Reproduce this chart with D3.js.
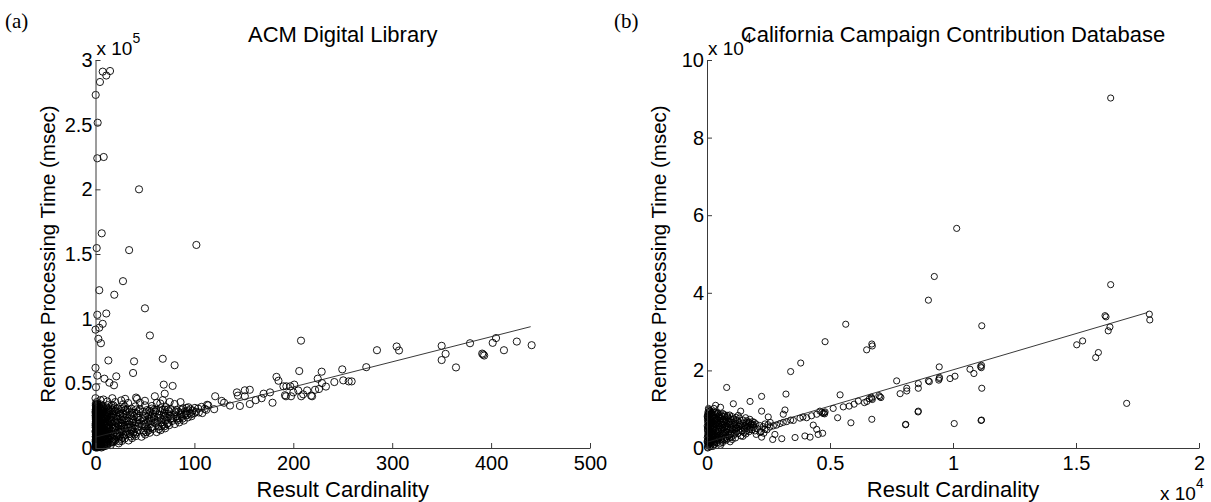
<!DOCTYPE html>
<html><head><meta charset="utf-8">
<script src="https://cdn.jsdelivr.net/npm/d3@7"></script>
<style>
body{margin:0;background:#fff}
svg{display:block}
</style>
</head><body>
<svg id="c" width="1211" height="502"></svg>
<script>
// ---------- Panel (a): ACM Digital Library ----------
// x: result cardinality, y: remote processing time in thousands of msec
const acmXTicks = [0, 100, 200, 300, 400, 500];
const acmYTicks = [0, 50, 100, 150, 200, 250, 300];
const acmYTickLabels = ["0", "0.5", "1", "1.5", "2", "2.5", "3"];
const acmFit = [[0, 8.4], [440, 93.8]];
const acmOutliers = [
 [7.3,291],[14.7,291.5],[10.9,288],[4.5,283],[0.2,273],[2.2,251.5],[1.8,224],[8.3,225],[44,200],[6.3,166],
 [1.2,154.6],[34,153],[102,157],[27.8,129],[3.8,122],[19,118.5],[50,108],[1.8,103],[10.9,104],[7.3,96],
 [0,91.5],[3.8,93],[55,87],[2.9,84.4],[5.5,81],[13,67.7],[39,67],[68,69],[80,64],[38,58],[0,62],[1.8,56],
 [9,53.6],[21,55.4],[14,50.5],[18.7,48.5],[0.5,47],[69,49],[78,48],[70,42],[60,40],[0,38.5],[8,37.5],
 [41,39],[42,38],[75,35.6],[65.5,34.4],[50,33],[57,32.5],[28,33.8],[18,33],
 [5,37],[12,36],[20,35.5],[26,36.8],[33,34.8],[45,35],[50,36.5],[62,35],[68,37],[80,34],[86,35.5],[30,38],[17,38.5]
];
const acmBand = [
 [121,40],[92,31],[127.6,36.4],[114,33],[143,43],[151,44.6],[156,45],[151,40],[144,40.5],[170,42],[176.5,43],
 [183,55],[185,52],[193,47.7],[191.6,40.8],[179,35],[156,34],[146,32.5],[136,32.8],[162,37],[168,38.5],
 [120,30],[112,29.5],[108,27],[130,35],[200,43],
 [207.8,83],[206,59.5],[228.7,59],[249.5,60.8],[273.8,62.5],[284.6,75.6],[304.5,78.5],[306.9,75.4],[350,79],
 [354,72.8],[350,68],[364.5,62.3],[378.7,81],[391,73],[392,72.3],[393,71.5],[401.6,81.3],[405,85],[413,75.6],
 [426,82.3],[441,79.5],
 [224.7,53.6],[229,50.2],[226,45.6],[233,47.5],[241.5,51],[250.5,52.3],[256,51.5],[259,51.5],[201,49],[190,47.7],
 [197,47.7],[192.6,40],[197.7,40],[208,40],[210,41.5],[214,44.5],[218,40.5],[219,40],[205,44.5],[222,45]
];
const acmCluster = [
 [0,0.5],[0.3,2.1],[0.8,4.0],[0.2,6.3],[1.1,8.2],[0.5,10.4],[0.1,12.7],[1.4,14.1],[0.6,16.8],[0.2,19.0],[1.0,21.3],[0.4,23.5],[0.9,25.9],[0.1,28.2],[0.7,30.6],[0.3,33.1],[1.2,35.5],
 [2.0,0.9],[2.6,3.2],[1.8,5.5],[2.9,7.4],[2.2,9.6],[3.1,11.8],[1.9,13.5],[2.7,15.9],[2.3,18.2],[3.0,20.4],[2.1,22.7],[2.8,24.8],[1.7,27.1],[2.5,29.4],[3.2,31.7],[2.0,34.0],
 [4.1,0.8],[5.3,2.6],[4.6,4.9],[6.2,6.7],[5.0,8.8],[6.8,10.9],[4.4,12.6],[5.7,14.8],[7.1,16.5],[4.9,18.7],[6.5,20.9],[5.2,23.1],[7.4,25.0],[4.7,27.3],[6.0,29.5],[7.8,31.2],[5.5,33.6],[7.6,3.9],[8.0,7.9],[7.9,12.1],[8.2,19.3],[8.5,27.8],
 [9.2,1.6],[10.5,3.4],[11.8,5.1],[9.8,7.0],[12.6,8.6],[10.9,10.5],[13.4,12.2],[9.5,14.0],[11.6,15.8],[13.8,17.7],[10.2,19.6],[12.3,21.5],[14.1,23.3],[9.9,25.4],[11.3,27.6],[13.2,29.3],[10.7,31.5],[12.9,33.2],
 [15.4,2.3],[17.8,4.4],[20.1,6.1],[16.3,8.0],[19.2,9.9],[21.6,11.4],[15.9,13.1],[18.4,14.9],[20.9,16.6],[16.8,18.5],[19.7,20.3],[22.0,22.1],[15.6,24.0],[18.0,25.8],[21.2,27.5],[17.1,29.6],[19.5,31.4],[16.2,33.0],
 [23.5,3.6],[26.8,5.5],[29.4,7.3],[24.6,9.1],[27.9,10.8],[31.2,12.6],[25.3,14.3],[28.6,16.1],[31.8,17.8],[23.9,19.6],[27.1,21.4],[30.3,23.0],[24.8,24.9],[28.2,26.6],[31.5,28.3],[26.0,30.2],[29.7,32.0],
 [33.4,5.8],[36.9,7.6],[40.7,9.2],[34.8,10.9],[38.5,12.5],[42.9,14.0],[35.6,15.8],[39.8,17.3],[44.1,18.9],[33.9,20.6],[37.6,22.2],[41.5,23.8],[35.1,25.5],[39.2,27.1],[43.6,28.6],[36.4,30.4],[40.3,32.2],
 [46.5,8.7],[50.2,10.4],[54.8,11.8],[48.3,13.4],[52.6,14.9],[57.4,16.3],[47.1,17.9],[51.5,19.4],[56.2,20.8],[59.3,22.1],[49.0,23.6],[53.7,25.0],[58.1,26.4],[47.8,27.9],[52.0,29.3],[56.9,30.5],
 [61.8,12.3],[65.9,13.8],[70.4,15.2],[63.5,16.6],[68.1,18.0],[73.2,19.3],[62.7,20.7],[67.2,22.0],[72.0,23.4],[76.5,24.7],[64.4,25.9],[69.3,27.2],[74.1,28.5],[61.2,29.4],[66.0,30.8],[71.3,31.6],[77.4,20.9],
 [80.2,18.5],[84.7,19.8],[89.3,21.2],[82.5,22.6],[87.0,24.0],[92.1,25.3],[79.6,25.9],[85.8,27.1],[90.6,28.3],[95.2,27.0],[81.9,29.5],[88.4,30.6],[94.0,31.5],[98.3,29.0],[97.1,24.6],[101.5,28.0],[103.8,30.5],[107.2,31.8],[110.5,30.3],[112.9,33.4],
 [0.5,1.2],[1.5,0.3],[3,1.5],[6,0.4],[8,1.1],[12,2.2],[2,2.0],
 [0.5,3.2],[0.2,5.1],[0.7,7.3],[0.4,9.2],[0.9,11.5],[0.3,13.3],[0.8,15.4],[0.1,17.6],[0.6,20.1],[0.3,22.4],[0.7,24.6],[0.2,27.0],[0.5,29.3],[0.9,31.8],[0.4,34.2],
 [1.6,1.7],[1.3,3.9],[1.8,6.0],[1.5,8.7],[1.2,10.9],[1.7,12.8],[1.4,15.0],[1.9,17.2],[1.1,19.5],[1.6,21.8],[1.3,24.2],[1.8,26.3],[1.5,28.6],[1.2,30.9],[1.7,33.3],
 [3.6,2.2],[4.3,4.1],[3.5,6.6],[4.8,8.1],[3.8,10.0],[5.1,11.7],[3.4,13.7],[4.5,15.6],[3.9,17.4],[5.6,19.8],[3.7,21.9],[4.2,24.3],[5.8,26.4],[3.3,28.7],[4.6,30.8],[3.6,32.9],
 [6.5,1.3],[7.2,5.7],[6.1,9.7],[7.5,13.6],[6.4,17.6],[7.0,21.7],[6.7,24.2],[7.3,28.4],[6.2,32.3],
 [9.7,4.2],[11.1,6.3],[10.0,9.4],[12.1,11.2],[9.4,12.9],[11.0,17.0],[12.7,18.9],[9.6,20.8],[11.9,24.4],[10.4,26.8],[12.5,30.4],[13.6,27.0],[14.4,20.1],[13.9,14.6],[14.6,9.8],
 [16.7,5.2],[19.0,7.3],[17.4,11.1],[20.4,13.8],[18.8,17.6],[16.1,21.6],[21.1,19.4],[17.7,23.6],[20.6,25.0],[18.6,28.4],[22.4,30.6],[15.2,30.2],
 [25.9,7.1],[28.8,9.6],[24.2,12.3],[30.1,15.2],[26.6,17.3],[29.2,19.9],[25.5,22.3],[32.0,21.1],[27.6,24.0],[30.9,26.0],[23.6,27.8],[32.4,29.9],
 [35.7,8.9],[38.1,11.3],[41.8,12.1],[37.2,14.6],[43.3,16.5],[34.5,18.2],[40.6,20.1],[44.8,21.9],[38.8,24.6],[42.2,26.5],[34.2,28.0],[44.9,30.1],
 [48.9,11.9],[53.3,13.4],[57.9,14.7],[50.6,16.6],[55.4,18.4],[60.1,19.6],[48.5,21.1],[54.2,22.6],[59.0,24.0],[51.0,26.8],[55.6,27.7],[60.4,28.2],
 [64.1,14.6],[69.5,16.7],[74.5,17.6],[66.5,19.8],[71.0,21.2],[75.8,22.6],[63.0,23.5],[68.6,25.1],[73.5,26.3],[65.3,28.5],[70.2,29.7],[76.2,30.1],
 [83.1,21.4],[88.0,22.7],[93.3,23.6],[86.2,25.9],[91.4,26.8],[83.9,28.1],[96.5,26.0],[99.8,26.9],[104.5,27.5],[78.6,22.9],[80.8,27.8],[86.9,29.4],
 [0.15,1.0],[0.6,2.6],[0.35,4.6],[0.85,6.8],[0.25,8.7],[0.75,10.0],[0.45,11.9],[0.95,13.7],[0.2,15.9],[0.65,18.0],[0.4,20.7],[0.85,22.9],[0.1,25.1],[0.55,27.6],[0.3,29.8],[0.8,32.4],
 [2.4,1.2],[3.3,3.6],[2.2,5.0],[3.6,8.4],[2.6,11.0],[3.4,15.2],[2.4,16.8],[3.5,19.0],[2.7,21.3],[3.3,23.3],[2.3,25.8],[3.5,27.1],[2.6,31.0],
 [4.4,1.7],[5.6,4.5],[4.2,7.2],[5.9,9.3],[4.7,10.6],[6.3,12.2],[5.3,13.2],[6.6,15.5],[4.3,16.4],[5.4,17.9],[6.9,19.2],[4.5,20.6],[5.9,22.2],[6.3,25.7],[5.1,28.6],[6.8,30.1],
 [8.6,2.7],[9.0,5.5],[8.8,9.1],[8.4,14.9],[9.1,17.4],[8.7,22.6],[9.3,24.3],[8.9,30.0],
 [10.8,1.9],[12.4,3.9],[13.7,6.7],[11.4,8.0],[13.0,10.0],[10.6,12.0],[12.2,13.5],[13.1,16.1],[11.9,20.2],[13.4,22.2],[10.6,23.0],[12.0,26.1],[14.3,28.5],
 [15.8,4.2],[17.3,6.4],[18.9,5.4],[21.0,8.8],[22.5,10.3],[17.2,15.7],[19.9,15.5],[22.7,17.9],[15.3,19.8],[21.8,24.2],[16.9,26.6],[19.8,29.0],
 [24.1,5.2],[27.5,7.9],[30.5,10.4],[26.5,12.8],[29.9,13.5],[23.2,16.7],[32.8,16.1],[26.3,19.2],[29.0,22.0],[25.2,26.5],[30.1,29.4],[27.9,30.7],
 [36.3,13.4],[40.0,14.9],[42.0,19.9],[36.9,19.4],[38.1,21.0],[43.0,23.6],[36.8,27.2],[41.2,29.8],[39.6,10.5],
 [51.4,12.3],[55.9,15.6],[49.8,18.3],[53.0,21.0],[57.1,23.1],[50.3,25.0],[58.8,29.4],[54.5,28.9],
 [66.9,16.9],[72.4,18.6],[65.8,23.2],[70.5,24.6],[75.0,25.1],[67.9,29.4],[73.2,29.9],
 [82.0,24.6],[89.6,25.6],[85.0,23.1],[92.8,28.6],[95.8,29.9],[100.5,31.0]
];

// ---------- Panel (b): California Campaign Contribution Database ----------
// x: result cardinality in units of 10^4, y: remote processing time in units of 10^4 msec
const campXTicks = [0, 0.5, 1, 1.5, 2];
const campYTicks = [0, 2, 4, 6, 8, 10];
const campFit = [[0, 0.147], [1.79, 3.49]];
const campOutliers = [
 [1.641,9.02],[1.015,5.66],[0.924,4.42],[0.9,3.81],[1.641,4.21],[0.564,3.19],[1.117,3.15],[0.48,2.74],[0.67,2.68],[0.672,2.63],
 [0.649,2.53],[0.381,2.19],[0.34,1.97],[0.08,1.56],[0.321,1.39],[0.222,1.33],[0.175,1.2],[0.107,1.14],[0.028,1.02],[0.137,0.95],
 [0.222,0.95],[0.317,0.98],[0.31,0.87],[0.249,0.8],
 [1.503,2.66],[1.527,2.76],[1.618,3.41],[1.622,3.38],[1.638,3.12],[1.631,3.02],[1.591,2.46],[1.58,2.33],[1.706,1.15],[1.798,3.45],[1.8,3.3],
 [0.541,1.37],[0.531,0.78],[0.585,0.65],[0.67,0.74],[0.808,0.61],[0.807,0.6],[0.859,0.95],[0.858,0.93],[1.005,0.63],[1.114,0.71],[1.116,0.72],[1.117,1.54],
 [0.006,1.02],[0.012,0.95],[0.035,1.1],[0.055,1.05]
];
const campBand = [
 [1.115,2.07],[1.116,2.13],[1.112,2.1],[1.069,2.03],[1.085,1.92],[1.008,1.85],[0.988,1.79],[0.944,2.09],[0.944,1.79],[0.942,1.75],[0.945,1.82],
 [0.904,1.71],[0.9,1.73],[0.859,1.66],[0.859,1.54],[0.812,1.54],[0.812,1.47],[0.785,1.4],[0.771,1.73],[0.703,1.32],[0.707,1.3],[0.699,1.35],
 [0.67,1.28],[0.672,1.25],[0.668,1.31],[0.66,1.27],[0.65,1.2],[0.64,1.17],[0.615,1.21],[0.598,1.13],[0.578,1.08],[0.554,1.06],[0.513,1.02],
 [0.48,0.93],[0.476,0.91],[0.472,0.89],[0.459,0.95],[0.446,0.87],[0.425,0.83],[0.405,0.78],[0.378,0.77],[0.351,0.71],[0.324,0.68],[0.297,0.63],
 [0.283,0.59],[0.27,0.57],[0.256,0.54],[0.236,0.48],[0.31,0.66],[0.34,0.72],[0.39,0.8],[0.467,0.92],[0.478,0.88],
 [0.432,0.59],[0.446,0.48],[0.47,0.38],[0.452,0.35],[0.419,0.28],[0.398,0.31],[0.358,0.27],[0.304,0.24],[0.267,0.22],[0.276,0.35],[0.222,0.28],[0.2,0.35],[0.215,0.4]
];
const campCluster = [
 [0.002,0.02],[0.006,0.08],[0.001,0.15],[0.009,0.22],[0.004,0.29],[0.011,0.36],[0.003,0.43],[0.008,0.5],[0.001,0.57],[0.012,0.64],[0.005,0.71],[0.002,0.79],[0.01,0.86],[0.004,0.93],[0.007,0.99],[0.003,0.06],[0.014,0.12],[0.016,0.26],[0.018,0.4],[0.015,0.55],[0.02,0.7],[0.017,0.83],
 [0.024,0.04],[0.031,0.1],[0.027,0.17],[0.038,0.24],[0.029,0.31],[0.042,0.38],[0.034,0.45],[0.047,0.51],[0.025,0.58],[0.039,0.65],[0.045,0.72],[0.032,0.79],[0.05,0.85],[0.036,0.92],[0.028,0.47],[0.043,0.2],[0.049,0.31],[0.022,0.35],
 [0.055,0.07],[0.063,0.14],[0.071,0.21],[0.058,0.28],[0.082,0.24],[0.066,0.35],[0.077,0.41],[0.089,0.33],[0.06,0.48],[0.074,0.55],[0.085,0.5],[0.052,0.62],[0.068,0.68],[0.081,0.63],[0.057,0.75],[0.072,0.82],[0.088,0.76],[0.064,0.89],
 [0.094,0.16],[0.103,0.22],[0.116,0.26],[0.098,0.39],[0.112,0.45],[0.125,0.37],[0.107,0.56],[0.121,0.6],[0.134,0.48],[0.095,0.68],[0.118,0.73],[0.131,0.66],[0.102,0.81],[0.127,0.84],[0.138,0.31],[0.14,0.56],
 [0.146,0.3],[0.158,0.36],[0.171,0.42],[0.152,0.49],[0.166,0.55],[0.183,0.47],[0.149,0.63],[0.162,0.7],[0.178,0.6],[0.19,0.53],[0.157,0.78],[0.174,0.74],[0.195,0.44],[0.199,0.62],[0.185,0.68],
 [0.205,0.5],[0.214,0.58],[0.228,0.55],[0.236,0.62],[0.248,0.6],[0.219,0.42],[0.231,0.38],[0.244,0.47],[0.257,0.66],
 [0.004,0.11],[0.001,0.18],[0.007,0.25],[0.003,0.33],[0.009,0.4],[0.002,0.47],[0.006,0.54],[0.011,0.61],[0.003,0.68],[0.008,0.75],[0.001,0.82],[0.006,0.89],[0.012,0.46],[0.013,0.03],[0.016,0.16],[0.019,0.32],[0.013,0.5],[0.018,0.62],[0.014,0.77],[0.019,0.9],
 [0.026,0.13],[0.034,0.21],[0.041,0.28],[0.023,0.42],[0.037,0.55],[0.044,0.62],[0.03,0.69],[0.048,0.78],[0.026,0.84],[0.041,0.88],[0.023,0.27],[0.046,0.43],
 [0.061,0.18],[0.075,0.28],[0.086,0.4],[0.059,0.38],[0.07,0.46],[0.079,0.58],[0.064,0.6],[0.087,0.69],[0.053,0.7],[0.077,0.72],[0.062,0.81],[0.083,0.84],
 [0.099,0.27],[0.109,0.33],[0.121,0.42],[0.104,0.48],[0.115,0.53],[0.129,0.56],[0.097,0.59],[0.11,0.65],[0.124,0.7],[0.136,0.6],[0.107,0.75],[0.132,0.77],
 [0.151,0.39],[0.163,0.45],[0.177,0.52],[0.155,0.57],[0.169,0.63],[0.186,0.58],[0.161,0.66],[0.192,0.66],[0.147,0.72],
 [0.003,0.0],[0.008,0.14],[0.005,0.2],[0.001,0.27],[0.007,0.31],[0.004,0.38],[0.01,0.45],[0.002,0.52],[0.007,0.58],[0.004,0.65],[0.009,0.69],[0.002,0.74],[0.006,0.81],[0.003,0.87],[0.009,0.93],[0.012,0.97],
 [0.015,0.07],[0.018,0.2],[0.014,0.29],[0.02,0.36],[0.016,0.43],[0.021,0.51],[0.017,0.58],[0.022,0.66],[0.015,0.73],[0.021,0.8],[0.016,0.87],[0.022,0.93],
 [0.029,0.08],[0.033,0.15],[0.026,0.22],[0.035,0.29],[0.031,0.36],[0.027,0.53],[0.036,0.6],[0.029,0.63],[0.034,0.73],[0.028,0.76],[0.033,0.86],[0.031,0.93],
 [0.042,0.14],[0.047,0.24],[0.04,0.33],[0.044,0.47],[0.048,0.56],[0.041,0.68],[0.046,0.81],[0.04,0.74],[0.044,0.9],
 [0.054,0.12],[0.058,0.23],[0.053,0.33],[0.057,0.44],[0.055,0.54],[0.059,0.66],[0.054,0.8],[0.058,0.86],
 [0.067,0.25],[0.069,0.39],[0.065,0.52],[0.07,0.64],[0.066,0.74],[0.071,0.86],
 [0.079,0.2],[0.084,0.3],[0.08,0.47],[0.083,0.55],[0.078,0.67],[0.085,0.8],
 [0.092,0.27],[0.096,0.36],[0.093,0.47],[0.097,0.52],[0.091,0.62],[0.095,0.75],[0.092,0.85],
 [0.114,0.38],[0.118,0.5],[0.113,0.62],[0.122,0.52],[0.128,0.45],[0.119,0.79],[0.143,0.43],[0.148,0.52],[0.158,0.6],[0.171,0.67],[0.181,0.63],[0.16,0.52],[0.175,0.48],[0.189,0.6]
];

const svg = d3.select("#c");
const AXIS = "#3a3a3a";
const SANS = '"Liberation Sans",Arial,Helvetica,sans-serif';
const SERIF = '"Liberation Serif","DejaVu Serif",serif';

function panel(o) {
  const x = d3.scaleLinear().domain(o.xDomain).range([o.left, o.right]);
  const y = d3.scaleLinear().domain(o.yDomain).range([o.bottom, o.top]);
  const g = svg.append("g").style("font-family", SANS);

  // points
  g.append("g").selectAll("circle").data(o.points).join("circle")
    .attr("cx", d => x(d[0])).attr("cy", d => y(d[1])).attr("r", o.r)
    .attr("fill", "none").attr("stroke", "#000").attr("stroke-width", 0.9);

  // fit line
  g.append("path").datum(o.fit)
    .attr("d", d3.line().x(d => x(d[0])).y(d => y(d[1])))
    .attr("fill", "none").attr("stroke", "#222").attr("stroke-width", 0.9);

  // axes (ticks point inward, MATLAB style)
  const xa = g.append("g").attr("transform", `translate(0,${o.bottom})`)
    .call(d3.axisBottom(x).tickValues(o.xTicks).tickFormat(o.xFmt).tickSizeInner(-5).tickSizeOuter(0).tickPadding(8));
  const ya = g.append("g").attr("transform", `translate(${o.left},0)`)
    .call(d3.axisLeft(y).tickValues(o.yTicks).tickFormat(o.yFmt).tickSizeInner(-5).tickSizeOuter(0).tickPadding(3));
  [xa, ya].forEach(a => {
    a.select(".domain").attr("stroke", AXIS).attr("stroke-width", 1);
    a.selectAll(".tick line").attr("stroke", AXIS);
    a.selectAll(".tick text").attr("font-size", 20).style("font-family", SANS).attr("fill", "#000");
  });

  // title
  g.append("text").attr("x", (o.left + o.right) / 2).attr("y", 42).attr("text-anchor", "middle")
    .attr("font-size", 22).text(o.title);
  // x label
  g.append("text").attr("x", (o.left + o.right) / 2).attr("y", 497).attr("text-anchor", "middle")
    .attr("font-size", 22).text("Result Cardinality");
  // y label
  g.append("text").attr("transform", `translate(${o.left - 41},${(o.top + o.bottom) / 2}) rotate(-90)`)
    .attr("text-anchor", "middle").attr("font-size", 20.5).text("Remote Processing Time (msec)");
  // y exponent
  const ye = g.append("text").attr("x", o.left + 1).attr("y", 55).attr("font-size", 19);
  ye.append("tspan").text("x 10");
  ye.append("tspan").attr("font-size", 14).attr("dy", -12).text(o.yExp);
  // panel letter
  g.append("text").attr("x", o.letterX).attr("y", 28).attr("font-size", 21)
    .style("font-family", SERIF).text(o.letter);
  return {x, y, g};
}

panel({
  left: 95.5, right: 590, top: 60, bottom: 448,
  xDomain: [0, 500], yDomain: [0, 300],
  xTicks: acmXTicks, yTicks: acmYTicks,
  xFmt: d => String(d), yFmt: d => acmYTickLabels[acmYTicks.indexOf(d)],
  points: acmCluster.concat(acmBand, acmOutliers), fit: acmFit, r: 3.6,
  title: "ACM Digital Library", yExp: "5", letter: "(a)", letterX: 5
});

const pb = panel({
  left: 707, right: 1199, top: 60, bottom: 448,
  xDomain: [0, 2], yDomain: [0, 10],
  xTicks: campXTicks, yTicks: campYTicks,
  xFmt: d => String(d), yFmt: d => String(d),
  points: campCluster.concat(campBand, campOutliers), fit: campFit, r: 3.1,
  title: "California Campaign Contribution Database", yExp: "4", letter: "(b)", letterX: 614
});
// x exponent of panel (b)
const xe = pb.g.append("text").attr("x", 1160).attr("y", 500).attr("font-size", 19);
xe.append("tspan").text("x 10");
xe.append("tspan").attr("font-size", 14).attr("dy", -12).text("4");
</script>
</body></html>
